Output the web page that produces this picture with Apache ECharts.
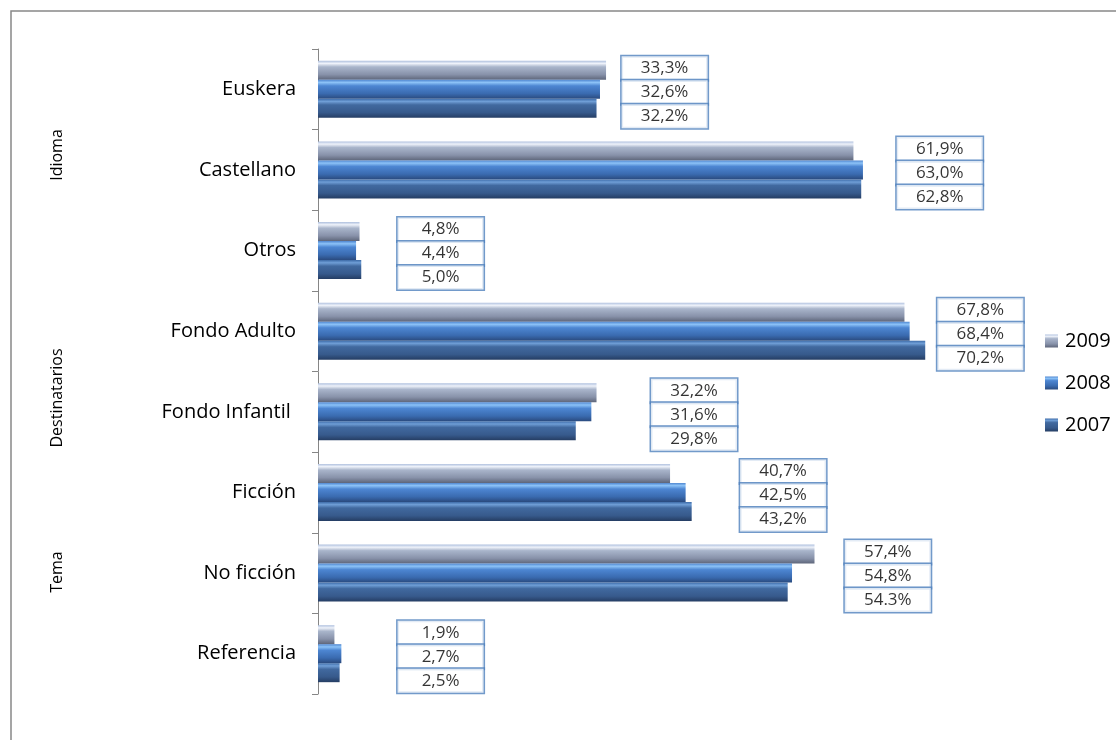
<!DOCTYPE html>
<html><head><meta charset="utf-8">
<script src="https://cdn.jsdelivr.net/npm/echarts@6/dist/echarts.min.js"></script>
<style>html,body{margin:0;padding:0;background:#fff}#c{width:1116px;height:740px}</style>
</head><body><div id="c"></div>
<script>
const categories = ['Euskera','Castellano','Otros','Fondo Adulto','Fondo Infantil ','Ficción','No ficción','Referencia'];
const years = ['2009','2008','2007'];
const v2009 = [33.3, 61.9, 4.8, 67.8, 32.2, 40.7, 57.4, 1.9];
const v2008 = [32.6, 63.0, 4.4, 68.4, 31.6, 42.5, 54.8, 2.7];
const v2007 = [32.2, 62.8, 5.0, 70.2, 29.8, 43.2, 54.3, 2.5];
const t2009 = ['33,3%','61,9%','4,8%','67,8%','32,2%','40,7%','57,4%','1,9%'];
const t2008 = ['32,6%','63,0%','4,4%','68,4%','31,6%','42,5%','54,8%','2,7%'];
const t2007 = ['32,2%','62,8%','5,0%','70,2%','29,8%','43,2%','54.3%','2,5%'];
// where each category's label boxes begin (value units)
const labelAt = [35.1, 66.9, 9.2, 71.6, 38.5, 48.8, 60.9, 9.2];
const groups = ['Idioma','Destinatarios','Tema'];

const values = [v2009, v2008, v2007];
const texts = [t2009, t2008, t2007];
const grads = [
  [['0','#AFC0DE'],['0.14','#EEF2FA'],['0.32','#A9B5CB'],['0.72','#8892AA'],['1','#5E667A']],
  [['0','#4F86D0'],['0.14','#8CC2F7'],['0.32','#4D86D2'],['0.72','#3A6BB0'],['1','#2A4A7E']],
  [['0','#3D6BA8'],['0.14','#6F9ED6'],['0.32','#41699F'],['0.72','#375A8C'],['1','#253D63']]
];
function grad(g){return new echarts.graphic.LinearGradient(0,0,0,1,g.map(s=>({offset:+s[0],color:s[1]})));}
const dys = [-21, 3, 27];
const FONT = '"Open Sans", sans-serif';

const series = [];
years.forEach((y,k)=>{
  series.push({
    name:y, type:'bar', data:values[k], barWidth:19, barGap:'0%',
    itemStyle:{color:grad(grads[k])}, silent:true
  });
});
years.forEach((y,k)=>{
  series.push({
    name:'lbl'+y, type:'scatter', symbolSize:0, silent:true, z:5+k,
    data: labelAt.map((x,i)=>[x,i]),
    label:{show:true, position:'right', distance:0, offset:[43, dys[k]],
      align:'center', verticalAlign:'middle',
      formatter:p=>texts[k][p.dataIndex],
      fontFamily:FONT, fontSize:17, color:'#000', lineHeight:18,
      width:82, padding:[3,2], backgroundColor:'#fff', borderColor:'#4F81BD', borderWidth:1.5}
  });
});

const chart = echarts.init(document.getElementById('c'));
chart.setOption({
  animation:false,
  backgroundColor:'#fff',
  grid:{left:318, right:106, top:49, bottom:46},
  xAxis:{type:'value', min:0, max:80, show:false},
  yAxis:{type:'category', data:categories, inverse:true,
    axisLine:{lineStyle:{color:'#868686', width:1}},
    axisTick:{show:true, length:6, lineStyle:{color:'#868686'}},
    axisLabel:{margin:22, fontFamily:FONT, fontSize:20, color:'#000'}},
  legend:{data:years, orient:'vertical', left:1040, top:326, itemGap:22,
    itemWidth:13, itemHeight:13, icon:'rect',
    textStyle:{fontFamily:FONT, fontSize:20, color:'#000', padding:[0,0,0,2]}},
  series:series,
  graphic:[
    {type:'rect', shape:{x:11,y:11,width:1200,height:800}, style:{fill:'none', stroke:'#888', lineWidth:1.5}, silent:true},
    {type:'text', x:57, y:155, rotation:Math.PI/2, style:{text:groups[0], font:'16px '+FONT, fill:'#000', align:'center', verticalAlign:'middle'}},
    {type:'text', x:57, y:398, rotation:Math.PI/2, style:{text:groups[1], font:'16px '+FONT, fill:'#000', align:'center', verticalAlign:'middle'}},
    {type:'text', x:57, y:572, rotation:Math.PI/2, style:{text:groups[2], font:'16px '+FONT, fill:'#000', align:'center', verticalAlign:'middle'}}
  ]
});
</script></body></html>
